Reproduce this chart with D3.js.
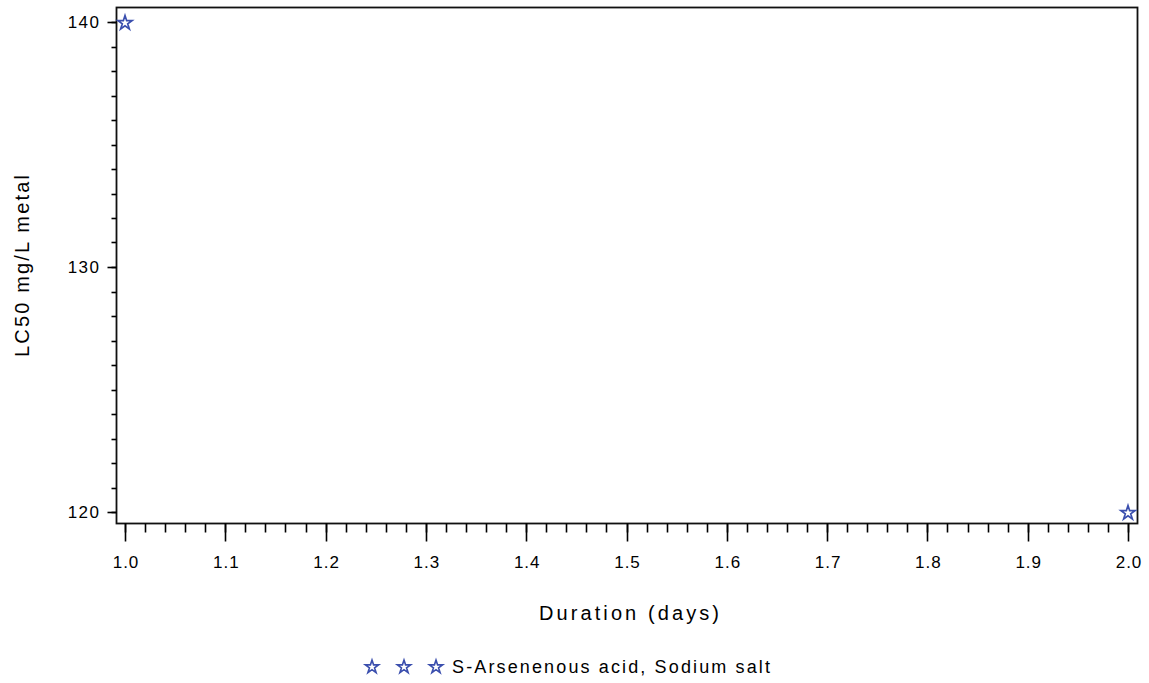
<!DOCTYPE html>
<html>
<head>
<meta charset="utf-8">
<script src="https://cdn.jsdelivr.net/npm/d3@7"></script>
<style>
  html, body { margin: 0; padding: 0; background: #fff; }
  svg text { font-family: "Liberation Sans", Arial, sans-serif; fill: #000; }
</style>
</head>
<body>
<svg id="chart" width="1149" height="683"></svg>
<script>
// Data
const durations = [1.0, 2.0];
const lc50 = [140, 120];
const seriesName = "S-Arsenenous acid, Sodium salt";
const xTicks = [1.0, 1.1, 1.2, 1.3, 1.4, 1.5, 1.6, 1.7, 1.8, 1.9, 2.0];
const yTicks = [120, 130, 140];
const xTitle = "Duration (days)";
const yTitle = "LC50 mg/L metal";

const svg = d3.select("#chart");
const frame = { left: 116.5, right: 1137.5, top: 7.5, bottom: 523.5 };
const markColor = "#3b4fae";

const x = d3.scaleLinear().domain([1.0, 2.0]).range([125, 1128]);
const y = d3.scaleLinear().domain([120, 140]).range([512, 22]);

// Plot frame
svg.append("rect")
  .attr("x", frame.left).attr("y", frame.top)
  .attr("width", frame.right - frame.left).attr("height", frame.bottom - frame.top)
  .attr("fill", "none").attr("stroke", "#111").attr("stroke-width", 1.8);

// X axis
const xMinor = d3.range(1.0, 2.0001, 0.02);
const xAxisG = svg.append("g").attr("transform", `translate(0,${frame.bottom})`);
xAxisG.selectAll("line.minor").data(xMinor).join("line")
  .attr("x1", d => Math.round(x(d)) + 0.5).attr("x2", d => Math.round(x(d)) + 0.5)
  .attr("y1", 0).attr("y2", 9).attr("stroke", "#000").attr("stroke-width", 1.6);
xAxisG.selectAll("line.major").data(xTicks).join("line")
  .attr("x1", d => Math.round(x(d)) + 0.5).attr("x2", d => Math.round(x(d)) + 0.5)
  .attr("y1", 0).attr("y2", 18).attr("stroke", "#000").attr("stroke-width", 1.6);
xAxisG.selectAll("text").data(xTicks).join("text")
  .attr("x", d => x(d) + 1).attr("y", 44)
  .attr("text-anchor", "middle").attr("font-size", 17).attr("letter-spacing", 1)
  .text(d => d3.format(".1f")(d));

// Y axis
const yMinor = d3.range(120, 140.001, 1);
const yAxisG = svg.append("g").attr("transform", `translate(${frame.left},0)`);
yAxisG.selectAll("line.minor").data(yMinor).join("line")
  .attr("y1", d => Math.round(y(d)) + 0.5).attr("y2", d => Math.round(y(d)) + 0.5)
  .attr("x1", 0).attr("x2", -5).attr("stroke", "#000").attr("stroke-width", 1.6);
yAxisG.selectAll("line.major").data(yTicks).join("line")
  .attr("y1", d => Math.round(y(d)) + 0.5).attr("y2", d => Math.round(y(d)) + 0.5)
  .attr("x1", 0).attr("x2", -9).attr("stroke", "#000").attr("stroke-width", 1.6);
yAxisG.selectAll("text").data(yTicks).join("text")
  .attr("x", -16).attr("y", d => y(d) + 6)
  .attr("text-anchor", "end").attr("font-size", 17).attr("letter-spacing", 1.5)
  .text(d => d);

// Axis titles
svg.append("text").attr("x", 629).attr("y", 620)
  .attr("text-anchor", "middle").attr("font-size", 20)
  .attr("textLength", 180).attr("lengthAdjust", "spacing").text(xTitle);
svg.append("text")
  .attr("transform", `translate(29,266) rotate(-90)`)
  .attr("text-anchor", "middle").attr("font-size", 20)
  .attr("textLength", 182).attr("lengthAdjust", "spacing").text(yTitle);

// Star marker
const star = d3.symbol().type(d3.symbolStar).size(62);

svg.append("g").selectAll("path").data(durations.map((d, i) => ({ x: d, y: lc50[i] })))
  .join("path")
  .attr("transform", d => `translate(${x(d.x)},${y(d.y) + 1})`)
  .attr("d", star)
  .attr("fill", "none").attr("stroke", markColor).attr("stroke-width", 1.7);

// Legend
const legendG = svg.append("g");
[372, 404, 436].forEach(lx => {
  legendG.append("path")
    .attr("transform", `translate(${lx},667)`)
    .attr("d", d3.symbol().type(d3.symbolStar).size(55))
    .attr("fill", "none").attr("stroke", markColor).attr("stroke-width", 1.6);
});
legendG.append("text").attr("x", 452).attr("y", 673)
  .attr("font-size", 18)
  .attr("textLength", 318).attr("lengthAdjust", "spacing").text(seriesName);
</script>
</body>
</html>
